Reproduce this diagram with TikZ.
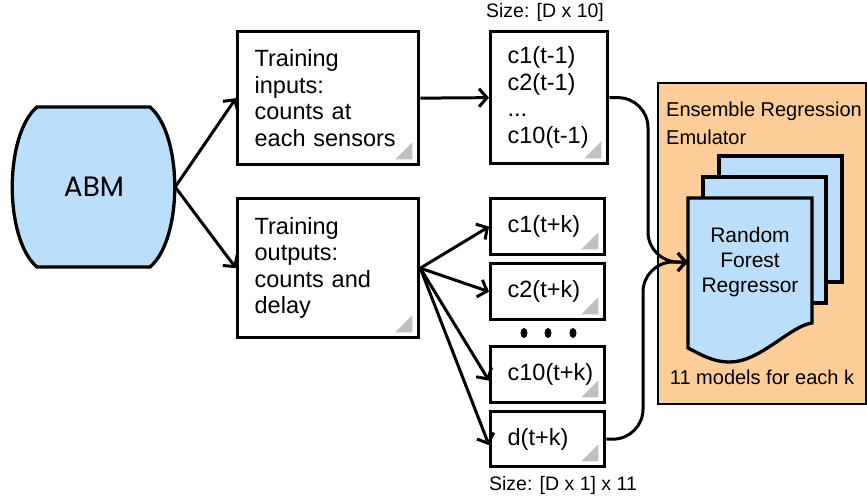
\documentclass[tikz,border=0pt]{standalone}
\usepackage{fontspec}
\setmainfont{Liberation Sans}
\newfontfamily\abmfont{Poppins}
\usetikzlibrary{arrows.meta,calc}
\definecolor{lblue}{RGB}{187,222,251}
\definecolor{lorange}{RGB}{252,204,153}
\definecolor{cgray}{RGB}{192,192,192}
\tikzset{
  box/.style={draw=black, line width=3.3pt, fill=white, align=left, inner xsep=17pt, inner ysep=0pt,
    font=\fontsize{23.5}{26.5}\selectfont, anchor=north west},
  bigbox/.style={box, minimum width=181pt, text width=147pt},
  cbox/.style={box, minimum width=114pt, minimum height=56pt, text width=80pt},
  arr/.style={line width=3pt, -{Straight Barb[length=8pt,width=18pt]}},
  shapeline/.style={line width=3.3pt, draw=black},
  lbl/.style={font=\fontsize{19.5}{22}\selectfont, inner sep=0pt},
}
\newcommand\foldmark[1]{\fill[cgray] ([xshift=-8pt,yshift=7pt]#1.south east) -- ++(-17pt,0pt) -- ++(17pt,17pt) -- cycle;}
\begin{document}
\begin{tikzpicture}[x=1pt,y=-1pt]
\useasboundingbox (0,0) rectangle (867,501);

% ABM
\filldraw[shapeline, fill=lblue] (37,107) -- (150,107) .. controls (183,135) and (183,239) .. (150,267)
  -- (37,267) .. controls (4,239) and (4,135) .. (37,107) -- cycle;
\node[font=\abmfont\fontsize{28}{30}\selectfont, minimum width=162pt, minimum height=160pt, inner sep=0pt] (abm) at (94,187) {ABM};

% training boxes
\node[bigbox, minimum height=133pt] (tin) at (236,30) {Training\\inputs:\\counts at\\each sensors};
\foldmark{tin}
\node[bigbox, minimum height=139pt] (tout) at (236,197) {Training\\outputs:\\counts and\\delay};
\foldmark{tout}

% input vector
\node[box, minimum width=117pt, minimum height=132pt, text width=83pt] (cin) at (489,30) {c1(t-1)\\c2(t-1)\\...\\c10(t-1)};
\foldmark{cin}
\node[lbl] (sz1) at (545,12) {Size: [D x 10]};

% output vectors
\node[cbox] (c1) at (489,197) {c1(t+k)};
\foldmark{c1}
\node[cbox] (c2) at (489,262) {c2(t+k)};
\foldmark{c2}
\node[cbox] (c10) at (489,345) {c10(t+k)};
\foldmark{c10}
\node[cbox, minimum height=55pt] (dk) at (489,410) {d(t+k)};
\foldmark{dk}
\node[lbl] (sz2) at (563,485) {Size: [D x 1] x 11};

\fill (524,333) ellipse [x radius=3.5pt, y radius=5pt];
\fill (548,333) ellipse [x radius=3.5pt, y radius=5pt];
\fill (573,333) ellipse [x radius=3.5pt, y radius=5pt];

% emulator
\filldraw[line width=2.8pt, fill=lorange] (658,83) rectangle (866,404);
\node[anchor=north west, align=left, font=\fontsize{20}{28}\selectfont, inner sep=0pt] (ens) at (666,102) {Ensemble Regression\\Emulator};
\node[font=\fontsize{20}{24}\selectfont, inner sep=0pt] (models) at (762,377) {11 models for each k};

\filldraw[shapeline, fill=lblue] (719,156) rectangle (842,282);
\filldraw[shapeline, fill=lblue] (703,177) rectangle (826,303);
\filldraw[shapeline, fill=lblue] (688,198) -- (812,198) -- (812,323)
  .. controls (790,326) and (760,362) .. (730,362)
  .. controls (712,362) and (700,354) .. (688,348) -- cycle;
\node[align=center, font=\fontsize{21}{25}\selectfont, minimum width=124pt, minimum height=126pt, inner sep=0pt] (rf) at (750,262) {Random\\Forest\\Regressor};

% connectors
\draw[arr] (abm.east) -- (tin.west);
\draw[arr] (abm.east) -- (tout.west);
\draw[arr] (tin.east) -- (cin.west);
\draw[arr] (tout.east) -- (c1.west);
\draw[arr] (tout.east) -- (c2.west);
\draw[arr] (tout.east) -- ([yshift=-6pt]c10.west);
\draw[arr] (tout.east) -- ([yshift=-6pt]dk.west);

\coordinate (bendA) at (648,180);
\coordinate (bendB) at (643,350);
\draw[arr, rounded corners=30pt] (cin.east) -| (bendA) |- (rf.west);
\draw[arr, rounded corners=30pt] (dk.east) -| (bendB) |- (rf.west);
\end{tikzpicture}
\end{document}
